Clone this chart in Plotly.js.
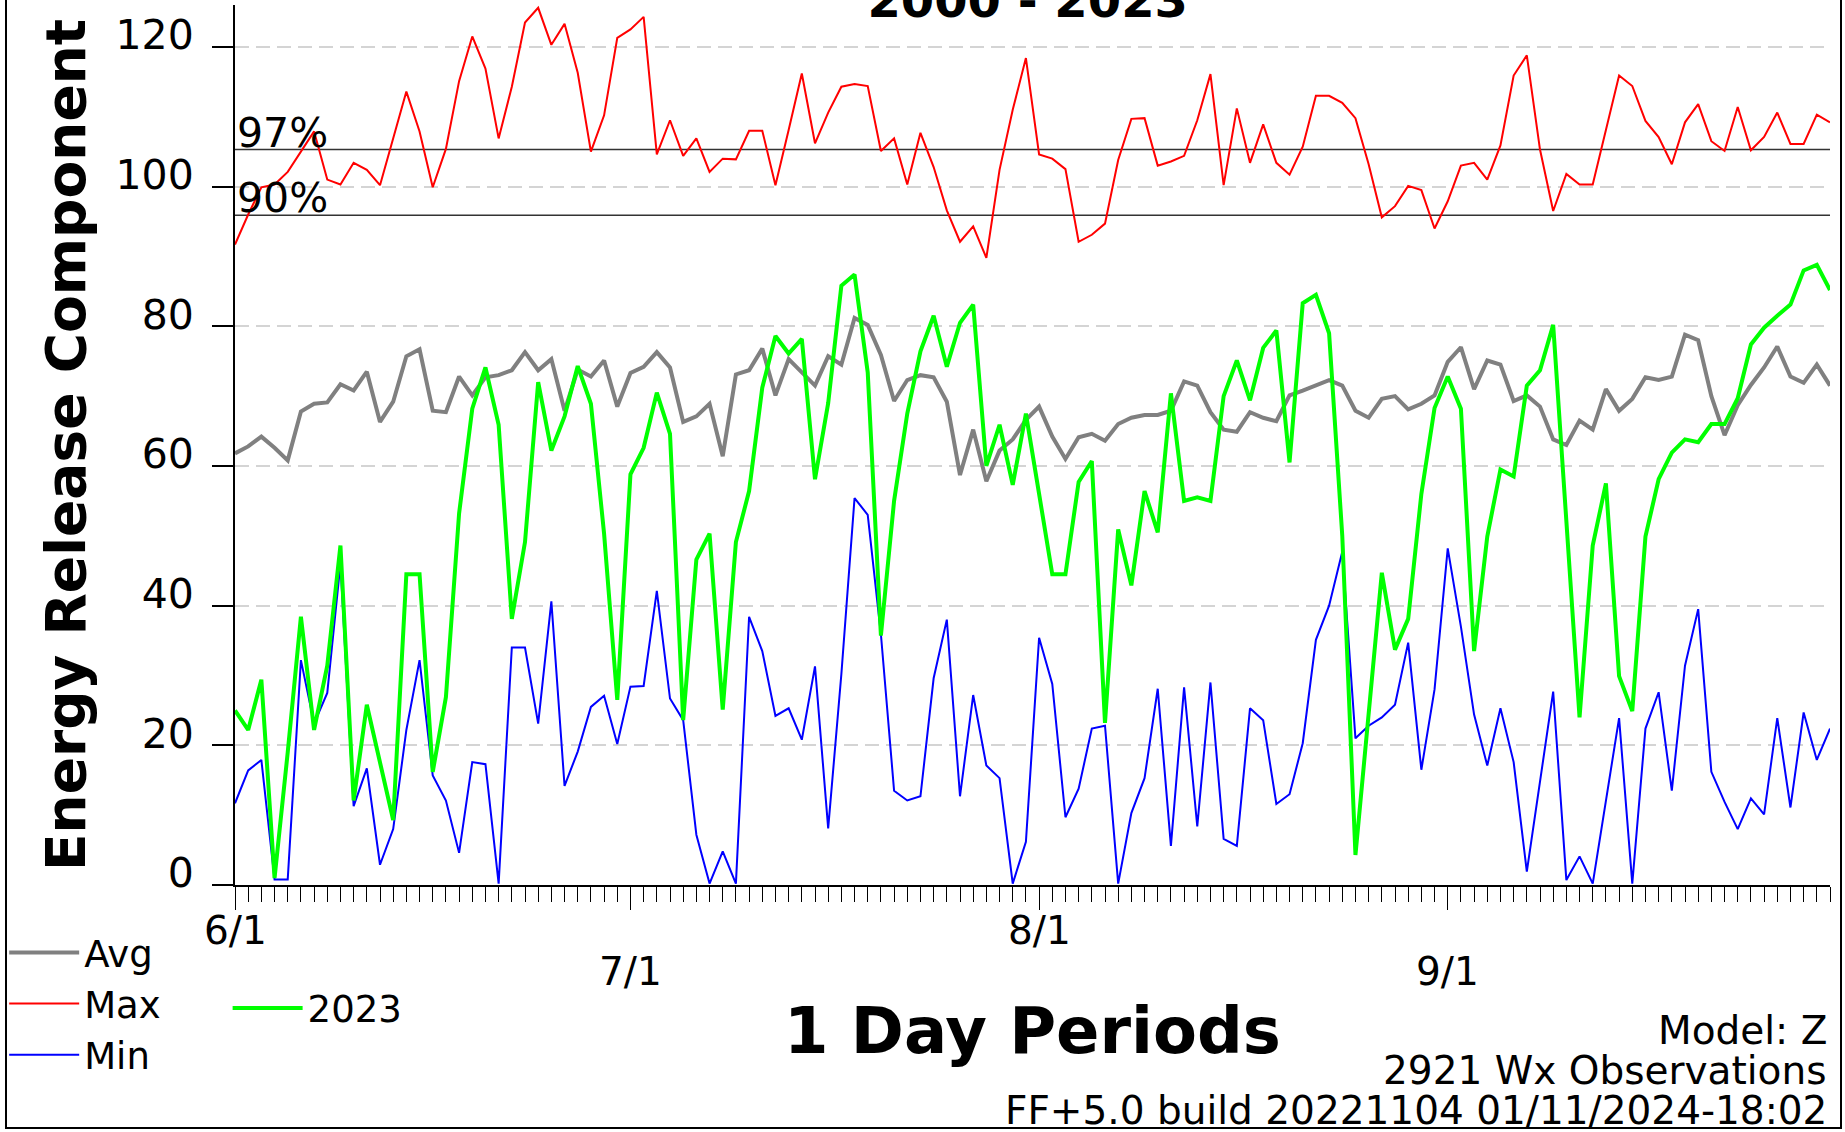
<!DOCTYPE html>
<html>
<head>
<meta charset="utf-8">
<script src="https://cdn.plot.ly/plotly-3.0.1.min.js"></script>
<style>
html,body{margin:0;padding:0;background:#fff;}
#wrap{position:relative;width:1845px;height:1132px;overflow:hidden;}
#chart{width:1845px;height:1132px;}
#frame{position:absolute;left:5px;top:-10px;width:1837px;height:1139px;border:2px solid #000;box-sizing:border-box;pointer-events:none;}
</style>
</head>
<body>
<div id="wrap"><div id="chart"></div><div id="frame"></div></div>
<script>
// ---- data (day index 0 = 6/1 ... 121 = 9/30) ----
const monthStartDay = [0, 30, 61, 92];
const monthLabels = ['6/1', '7/1', '8/1', '9/1'];
const yTicks = [0, 20, 40, 60, 80, 100, 120];
const pct97 = 105.3;
const pct90 = 95.9;

const avgVals = [61.8,62.8,64.2,62.6,60.8,67.8,68.9,69.1,71.7,70.8,73.5,66.3,69.2,75.7,76.7,67.9,
67.7,72.8,70.1,72.7,73.0,73.7,76.3,73.7,75.3,67.9,73.8,72.8,75.1,68.5,73.3,
74.2,76.3,74.1,66.3,67.1,68.9,61.4,73.1,73.7,76.8,70.1,75.3,73.3,71.5,75.7,
74.5,81.2,80.2,75.9,69.3,72.3,73.0,72.7,69.2,58.7,65.2,57.8,62.2,63.8,66.6,
68.5,64.2,61.0,64.1,64.6,63.6,66.0,66.9,67.3,67.3,67.9,72.1,71.5,67.7,65.2,
64.9,67.7,66.9,66.4,70.1,70.8,71.5,72.3,71.5,67.9,66.9,69.6,70.0,68.1,68.9,70.1,
74.9,77.0,71.0,75.1,74.5,69.3,70.1,68.5,63.8,63.0,66.5,65.2,71.0,67.9,69.6,
72.7,72.3,72.8,78.8,78.0,70.0,64.4,68.7,71.6,74.1,77.1,72.8,71.9,74.5,71.5];

const maxVals = [91.7,96.0,99.9,100.3,102.1,105.1,107.9,101.0,100.3,103.4,102.4,100.2,106.9,113.6,107.9,99.9,
105.4,115.1,121.5,116.9,106.9,114.3,123.5,125.6,120.3,123.3,116.3,105.0,110.2,121.3,122.5,
124.3,104.6,109.5,104.4,106.9,102.1,104.0,103.9,108.0,108.0,100.2,108.1,116.2,106.2,110.6,
114.3,114.7,114.4,105.1,106.9,100.3,107.7,102.8,96.6,92.1,94.3,89.8,102.4,111.0,118.4,
104.6,104.0,102.5,92.1,93.1,94.7,103.8,109.7,109.8,103.0,103.6,104.4,109.5,116.1,100.2,
111.2,103.4,108.9,103.4,101.7,105.7,113.0,113.0,112.0,109.8,103.2,95.6,97.2,100.1,99.5,94.0,
97.9,103.0,103.4,101.0,105.9,115.9,118.8,105.3,96.5,101.8,100.3,100.3,108.1,115.9,114.4,
109.4,107.1,103.2,109.2,111.8,106.5,105.1,111.4,105.2,107.1,110.6,106.1,106.1,110.3,109.2];

const minVals = [11.7,16.4,17.9,0.8,0.8,32.2,23.1,27.5,46.0,11.3,16.7,2.9,8.0,22.2,32.2,15.7,
12.1,4.6,17.6,17.3,0.2,34.0,34.0,23.1,40.6,14.2,19.1,25.5,27.1,20.2,28.4,
28.5,42.1,26.7,23.6,7.2,0.2,4.8,0.2,38.4,33.5,24.2,25.3,20.8,31.3,8.1,
30.2,55.4,53.0,35.9,13.5,12.1,12.7,29.6,38.0,12.7,27.2,17.1,15.3,0.2,6.2,
35.4,28.8,9.7,13.8,22.4,22.8,0.2,10.3,15.3,28.1,5.6,28.3,8.4,29.0,6.6,
5.6,25.3,23.6,11.6,13.0,20.3,35.1,40.0,47.7,21.0,22.8,24.0,25.8,34.7,16.5,28.0,
48.2,37.0,24.4,17.1,25.3,17.6,1.9,14.6,27.7,0.7,4.1,0.2,12.1,23.9,0.2,
22.4,27.6,13.5,31.4,39.5,16.2,11.9,8.0,12.4,10.1,23.9,11.1,24.7,17.9,22.4];

const y2023Vals = [25.0,22.2,29.4,1.0,19.0,38.4,22.2,31.4,48.6,12.1,25.8,17.5,9.3,44.5,44.5,16.2,
26.9,53.2,68.2,74.1,65.9,38.1,49.1,72.0,62.2,67.1,74.3,68.9,50.3,26.5,58.8,
62.6,70.5,64.6,23.6,46.6,50.3,25.1,49.1,56.4,71.2,78.6,76.1,78.2,58.1,69.0,
85.8,87.4,73.4,35.7,55.0,67.5,76.4,81.5,74.2,80.5,83.1,60.0,65.9,57.3,67.5,
56.0,44.5,44.5,57.7,60.7,23.2,50.9,42.9,56.4,50.5,70.4,55.0,55.5,55.0,70.0,
75.1,69.4,76.9,79.4,60.5,83.3,84.5,79.0,50.0,4.3,24.0,44.7,33.7,38.1,56.0,68.3,
72.8,68.2,33.5,49.9,59.5,58.5,71.5,73.7,80.2,52.0,24.0,48.6,57.5,29.9,24.9,
49.9,58.1,61.9,63.8,63.4,66.0,66.0,69.7,77.4,79.8,81.5,83.1,88.0,88.8,85.2];

const days = avgVals.map((_, i) => i);
const lastDay = days[days.length - 1];

const FONT = 'DejaVu Sans, Verdana, sans-serif';

const traces = [
  {name:'Avg', x:days, y:avgVals, mode:'lines', line:{color:'#808080', width:4}, legend:'legend'},
  {name:'Max', x:days, y:maxVals, mode:'lines', line:{color:'#ff0000', width:2}, legend:'legend'},
  {name:'Min', x:days, y:minVals, mode:'lines', line:{color:'#0000ff', width:2}, legend:'legend'},
  {name:'2023', x:days, y:y2023Vals, mode:'lines', line:{color:'#00ff00', width:4}, xaxis:'x2', legend:'legend2'}
];

const annotations = [];
monthLabels.forEach((lab, i) => {
  annotations.push({x:monthStartDay[i], xref:'x', y:0, yref:'paper', yanchor:'middle',
    yshift: (i % 2 === 0) ? -45 : -86, text:lab, showarrow:false,
    font:{family:FONT, size:39, color:'#000'}});
});
annotations.push({x:0, xref:'x', y:pct97, yref:'y', xanchor:'left', yanchor:'bottom', yshift:-9,
  text:'97%', showarrow:false, font:{family:FONT, size:41, color:'#000'}});
annotations.push({x:0, xref:'x', y:pct90, yref:'y', xanchor:'left', yanchor:'bottom', yshift:-9,
  text:'90%', showarrow:false, font:{family:FONT, size:41, color:'#000'}});
annotations.push({x:0, xref:'paper', xanchor:'center', xshift:-169, y:0.5, yref:'paper', yanchor:'middle', textangle:-90,
  text:'Energy Release Component', showarrow:false,
  font:{family:FONT, size:55, color:'#000', weight:'bold'}});
annotations.push({x:0.5, xref:'paper', y:0, yref:'paper', yanchor:'middle', yshift:-146,
  text:'1 Day Periods', showarrow:false, font:{family:FONT, size:64, color:'#000', weight:'bold'}});
const infoLines = ['Model: Z', '2921 Wx Observations', 'FF+5.0 build 20221104 01/11/2024-18:02'];
infoLines.forEach((t, i) => {
  annotations.push({x:1, xref:'paper', xanchor:'right', xshift:-1, y:0, yref:'paper', yanchor:'middle',
    yshift: -145 - 40 * i, text:t, showarrow:false, font:{family:FONT, size:39, color:'#000'}});
});

const layout = {
  width:1845, height:1132,
  margin:{l:234, r:15, t:5, b:247, pad:0},
  paper_bgcolor:'#fff', plot_bgcolor:'#fff',
  font:{family:FONT, color:'#000'},
  title:{text:'2000 - 2023', x:0.557, xanchor:'center', y:1, yref:'container', yanchor:'middle',
    font:{family:FONT, size:48, color:'#000', weight:'bold'}},
  showlegend:true,
  xaxis:{range:[0, lastDay], showgrid:false, zeroline:false, showline:true, linecolor:'#000', linewidth:2,
    ticks:'outside', tick0:0, dtick:1, ticklen:15, tickwidth:1, tickcolor:'#000', showticklabels:false, fixedrange:true},
  xaxis2:{overlaying:'x', anchor:'y', range:[0, lastDay], showgrid:false, zeroline:false, showline:false,
    tickmode:'array', tickvals:monthStartDay, ticks:'outside', ticklen:24, tickwidth:1, tickcolor:'#000', showticklabels:false},
  yaxis:{range:[0, 126], tickmode:'array', tickvals:yTicks, ticks:'outside', ticklen:21, tickwidth:2, tickcolor:'#000',
    showline:true, linecolor:'#000', linewidth:2, zeroline:false,
    showgrid:true, gridcolor:'#d4d4d4', gridwidth:2, griddash:'14px,7px',
    tickfont:{family:FONT, size:41, color:'#000'}, ticklabelstandoff:10, ticklabelshift:-12},
  shapes:[
    {type:'line', xref:'paper', x0:0, x1:1, yref:'y', y0:pct97, y1:pct97, line:{color:'#333', width:1.5}, layer:'below'},
    {type:'line', xref:'paper', x0:0, x1:1, yref:'y', y0:pct90, y1:pct90, line:{color:'#333', width:1.5}, layer:'below'}
  ],
  legend:{x:-0.144, xanchor:'left', y:-0.042, yanchor:'top', bgcolor:'rgba(0,0,0,0)',
    font:{family:FONT, size:37, color:'#000'}, itemwidth:70, tracegroupgap:0, traceorder:'normal'},
  legend2:{x:-0.004, xanchor:'left', y:-0.105, yanchor:'top', bgcolor:'rgba(0,0,0,0)',
    font:{family:FONT, size:37, color:'#000'}, itemwidth:70},
  annotations:annotations
};

Plotly.newPlot('chart', traces, layout, {staticPlot:true, displayModeBar:false});
</script>
</body>
</html>
